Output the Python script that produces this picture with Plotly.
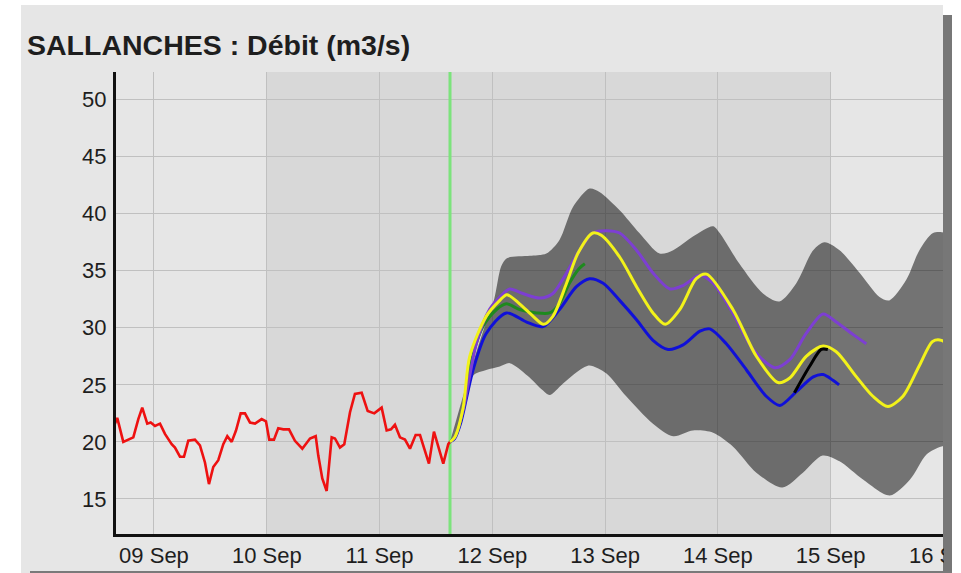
import pandas as pd
import plotly.graph_objects as go

YEAR = 2024

# Observed discharge (m3/s)
obs_time = [
    "09-08 15:30", "09-08 16:11", "09-08 17:28", "09-08 18:32", "09-08 19:36", "09-08 20:40",
    "09-08 21:30", "09-08 22:34", "09-08 23:18", "09-09 00:13", "09-09 01:17", "09-09 02:20",
    "09-09 03:46", "09-09 04:28", "09-09 05:32", "09-09 06:23", "09-09 07:18", "09-09 08:43",
    "09-09 09:47", "09-09 10:51", "09-09 11:42", "09-09 12:37", "09-09 13:41", "09-09 14:45",
    "09-09 15:36", "09-09 16:32", "09-09 17:27", "09-09 18:27", "09-09 19:22", "09-09 20:26",
    "09-09 21:30", "09-09 22:55", "09-09 23:50", "09-10 00:32", "09-10 01:32", "09-10 02:27",
    "09-10 03:31", "09-10 04:44", "09-10 06:00", "09-10 07:34", "09-10 09:12", "09-10 10:25",
    "09-10 10:58", "09-10 11:49", "09-10 12:45", "09-10 13:49", "09-10 14:31", "09-10 15:35",
    "09-10 16:30", "09-10 17:43", "09-10 18:46", "09-10 20:12", "09-10 21:29", "09-10 22:53",
    "09-11 00:27", "09-11 01:31", "09-11 02:26", "09-11 03:17", "09-11 04:21", "09-11 05:25",
    "09-11 06:29", "09-11 07:41", "09-11 08:37", "09-11 09:31", "09-11 10:31", "09-11 11:35",
    "09-11 12:30", "09-11 13:34", "09-11 14:38", "09-11 15:00",
]
obs_flow = [
    21.4, 22.1, 20.0, 20.2, 20.4, 22.0,
    23.0, 21.6, 21.7, 21.4, 21.6, 20.7,
    19.8, 19.5, 18.7, 18.7, 20.1, 20.2,
    19.7, 18.2, 16.3, 17.8, 18.4, 19.8,
    20.5, 20.0, 21.0, 22.5, 22.5, 21.7,
    21.6, 22.0, 21.8, 20.2, 20.2, 21.2,
    21.1, 21.1, 20.1, 19.4, 20.3, 20.5,
    18.8, 16.8, 15.7, 20.4, 20.3, 19.5,
    19.8, 22.6, 24.2, 24.3, 22.7, 22.5,
    23.0, 21.0, 21.1, 21.5, 20.4, 20.2,
    19.4, 20.6, 20.6, 19.4, 18.1, 20.9,
    19.5, 18.1, 19.8, 20.0,
]

# Forecast issue time; forecast series are given as hours after it
FC_START = f"{YEAR}-09-11 15:00"

env_up_h = [0, 4.2, 7.7, 9.4, 10.9, 12.1, 17.0, 20.5, 23.3, 26.2, 29.7, 31.8, 36.1, 40.3, 44.6,
            47.5, 51.7, 56.0, 57.4, 61.6, 66.6, 70.1, 73.7, 77.3, 79.7, 82.9, 87.2, 91.4, 93.5,
            97.1, 99.9, 102.8, 105.3, 108.4]
env_up = [20.0, 26.0, 30.5, 32.5, 35.4, 36.1, 36.3, 36.5, 37.7, 40.6, 42.2, 41.9, 40.3, 38.3, 36.5,
          36.8, 38.0, 38.9, 38.3, 35.6, 33.0, 32.3, 33.9, 36.8, 37.5, 36.8, 34.8, 32.7, 32.4,
          34.2, 36.8, 38.3, 38.3, 37.0]

env_lo_h = [0, 2.3, 4.9, 7.7, 10.6, 12.7, 16.5, 19.8, 21.2, 24.0, 27.6, 29.7, 33.3, 37.5, 43.2,
            47.5, 51.7, 56.0, 60.2, 65.2, 70.7, 75.1, 79.3, 82.9, 87.9, 93.6, 97.9, 101.4, 104.6,
            108.5]
env_lo = [20.0, 21.5, 25.8, 26.3, 26.6, 26.9, 25.8, 24.5, 24.1, 25.1, 26.3, 26.7, 26.0, 24.0, 21.6,
          20.5, 21.0, 20.8, 19.6, 17.3, 16.0, 17.3, 18.8, 18.3, 16.7, 15.3, 16.7, 18.9, 19.6,
          19.8]

blue_h = [0, 1.0, 2.3, 4.9, 7.7, 12.0, 16.3, 19.8, 23.3, 26.9, 29.7, 32.6, 36.1, 39.7, 43.2,
          46.4, 49.6, 53.2, 55.3, 58.8, 63.1, 67.3, 70.2, 73.7, 77.3, 79.4, 81.5, 82.8]
blue = [20.0, 20.3, 21.7, 26.3, 29.5, 31.3, 30.5, 30.1, 31.6, 33.6, 34.3, 33.9, 32.4, 30.7, 28.9,
        28.1, 28.5, 29.7, 29.9, 28.6, 26.3, 24.0, 23.2, 24.4, 25.7, 25.9, 25.4, 25.0]

green_h = [0, 1.0, 2.8, 4.5, 7.0, 9.9, 12.0, 14.8, 18.4, 21.2, 23.3, 25.4, 27.5, 28.7]
green = [20.0, 20.4, 22.9, 27.0, 30.1, 31.6, 32.1, 31.6, 31.3, 31.3, 32.1, 33.9, 35.2, 35.6]

purple_h = [0, 1.0, 2.8, 5.6, 8.4, 10.6, 12.7, 15.5, 19.1, 21.9, 24.8, 27.6, 30.4, 33.3, 36.1,
            39.7, 43.2, 46.8, 49.6, 53.2, 56.0, 60.2, 64.5, 69.1, 72.3, 75.8, 79.4, 82.2, 85.8,
            88.6]
purple = [20.0, 20.4, 22.8, 28.6, 31.6, 32.7, 33.4, 33.0, 32.6, 33.0, 34.8, 36.8, 38.3, 38.5, 38.3,
          36.8, 34.8, 33.4, 33.7, 34.6, 33.9, 31.3, 28.1, 26.5, 27.2, 29.5, 31.2, 30.5, 29.4,
          28.6]

yellow_h = [0, 1.0, 2.8, 4.2, 7.7, 10.6, 12.1, 14.8, 17.7, 19.9, 21.9, 24.8, 27.2, 30.4, 32.2,
            36.1, 39.7, 43.2, 45.8, 48.9, 52.4, 54.6, 60.2, 65.2, 69.8, 72.3, 75.8, 79.4, 82.2,
            86.5, 90.0, 93.2, 96.4, 99.9, 102.7, 104.6, 108.5]
yellow = [20.0, 20.4, 23.0, 27.5, 31.0, 32.4, 32.9, 32.1, 31.0, 30.3, 31.0, 33.9, 36.5, 38.3, 38.1,
          36.2, 33.6, 31.3, 30.3, 31.6, 34.3, 34.7, 31.6, 27.5, 25.2, 25.6, 27.5, 28.4, 27.9,
          25.7, 24.0, 23.1, 24.0, 26.7, 28.8, 28.9, 27.5]

black_h = [73.3, 76.5, 79.0, 80.4]
black = [24.3, 26.6, 28.1, 28.1]

Y_TICKS = [15, 20, 25, 30, 35, 40, 45, 50]
Y_RANGE = [11.93, 52.41]
X_RANGE = [f"{YEAR}-09-08 15:55", f"{YEAR}-09-16 03:45"]
SHADED_DAYS = [f"{YEAR}-09-10", f"{YEAR}-09-15"]
LAST_DAY = f"{YEAR}-09-16"

FONT = "Liberation Sans, Arial, Helvetica, sans-serif"

t0 = pd.Timestamp(FC_START)


def fc_times(hours):
    return [t0 + pd.Timedelta(hours=h) for h in hours]


fig = go.Figure()

# uncertainty envelope
fig.add_trace(go.Scatter(x=fc_times(env_up_h), y=env_up, mode="lines",
                         line=dict(width=0, shape="spline", smoothing=0.8),
                         hoverinfo="skip", showlegend=False))
fig.add_trace(go.Scatter(x=fc_times(env_lo_h), y=env_lo, mode="lines",
                         line=dict(width=0, shape="spline", smoothing=0.8),
                         fill="tonexty", fillcolor="rgba(0,0,0,0.5)",
                         hoverinfo="skip", showlegend=False))

# observed series
fig.add_trace(go.Scatter(x=pd.to_datetime([f"{YEAR}-{t}" for t in obs_time]), y=obs_flow,
                         mode="lines", line=dict(color="#ee1111", width=2.6),
                         showlegend=False))

# forecast members
for hrs, vals, col in [(blue_h, blue, "#1010d8"),
                       (green_h, green, "#1e8a1e"),
                       (purple_h, purple, "#7d3fd2"),
                       (yellow_h, yellow, "#f2f21a"),
                       (black_h, black, "#000000")]:
    fig.add_trace(go.Scatter(x=fc_times(hrs), y=vals, mode="lines",
                             line=dict(color=col, width=3, shape="spline", smoothing=0.8),
                             showlegend=False))

# pixel -> paper helpers for the page decoration
W, H = 961, 573
ML, MR, MT, MB = 116, 0, 72, 39
PW, PH = W - ML - MR, H - MT - MB
FRAME_RIGHT = 943


def px(xp):
    return (xp - ML) / PW


def py(yp):
    return (H - MB - yp) / PH


shapes = [
    # light panel behind the chart
    dict(type="rect", xref="paper", yref="paper", x0=px(21), x1=px(FRAME_RIGHT), y0=py(575), y1=py(5),
         fillcolor="#e6e6e6", line=dict(width=0), layer="below"),
    # shaded days
    dict(type="rect", xref="x", yref="paper", x0=SHADED_DAYS[0], x1=SHADED_DAYS[1], y0=0, y1=1,
         fillcolor="#d8d8d8", line=dict(width=0), layer="below"),
    # forecast issue time
    dict(type="line", xref="x", yref="y", x0=FC_START, x1=FC_START, y0=Y_RANGE[0], y1=Y_RANGE[1],
         line=dict(color="#7ce37c", width=3), layer="between"),
    # frame edge on the right and bottom
    dict(type="rect", xref="paper", yref="paper", x0=px(FRAME_RIGHT), x1=px(952), y0=py(575), y1=py(15),
         fillcolor="#777777", line=dict(width=0), layer="above"),
    dict(type="rect", xref="paper", yref="paper", x0=px(952), x1=1.0, y0=py(575), y1=py(-5),
         fillcolor="#ffffff", line=dict(width=0), layer="above"),
    dict(type="rect", xref="paper", yref="paper", x0=px(30), x1=px(952), y0=py(574), y1=py(571),
         fillcolor="#7a7a7a", line=dict(width=0), layer="above"),
]

# the "16 Sep" label, cut where the frame ends
label_shift = -35
last_label = dict(text=pd.Timestamp(LAST_DAY).strftime("%d %b"), xref="x", yref="paper",
                  x=LAST_DAY, xanchor="left", xshift=label_shift,
                  y=py(555.5), yanchor="middle", showarrow=False,
                  width=-label_shift, align="left", borderpad=0,
                  font=dict(family=FONT, size=22, color="#1e1e1e"))

fig.update_layout(
    width=W, height=H,
    margin=dict(l=ML, r=MR, t=MT, b=MB, pad=0),
    paper_bgcolor="#ffffff",
    plot_bgcolor="#e6e6e6",
    font=dict(family=FONT, size=22, color="#1e1e1e"),
    shapes=shapes,
    showlegend=False,
    annotations=[dict(text="<b>SALLANCHES : Débit (m3/s)</b>", xref="paper", yref="paper",
                      x=px(25), y=py(45), xanchor="left", yanchor="middle", showarrow=False,
                      font=dict(family=FONT, size=28.5, color="#1e1e1e")),
                 last_label],
)

fig.update_xaxes(range=X_RANGE, type="date", tick0=f"{YEAR}-09-09", dtick=86400000,
                 tickformat="%d %b", showgrid=True, gridcolor="#c0c0c0", gridwidth=1,
                 showline=True, linecolor="#111111", linewidth=3, ticks="",
                 zeroline=False, fixedrange=True)
fig.update_yaxes(range=Y_RANGE, tickvals=Y_TICKS, showgrid=True, gridcolor="#c0c0c0", gridwidth=1,
                 showline=True, linecolor="#111111", linewidth=3, ticks="",
                 zeroline=False, ticklabelstandoff=2, fixedrange=True)

fig.write_html("out.html", config={"displayModeBar": False})
